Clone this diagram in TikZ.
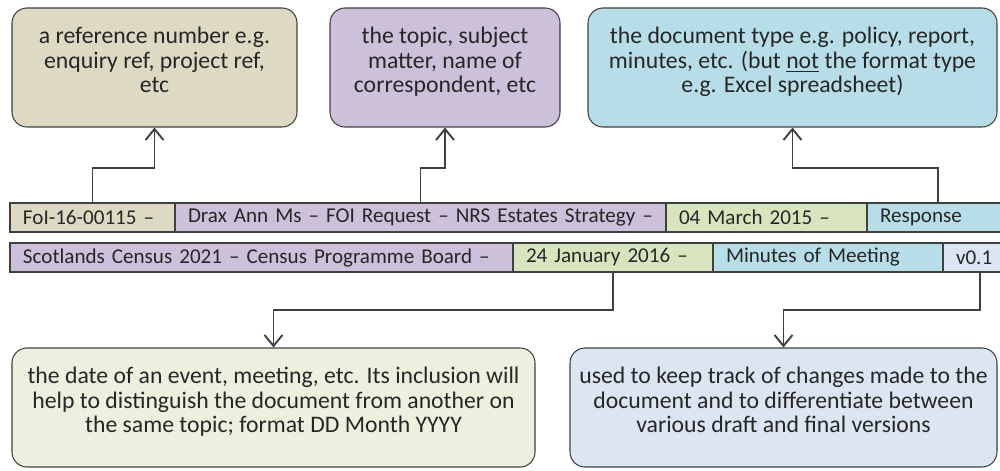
\documentclass[tikz,border=0pt]{standalone}
\usepackage{fontspec}
\setmainfont{Carlito}
\usetikzlibrary{positioning,arrows.meta}
\definecolor{tanfill}{HTML}{DDD9C3}
\definecolor{lilac}{HTML}{CCC0DA}
\definecolor{sage}{HTML}{D7E4BD}
\definecolor{sky}{HTML}{B7DEE8}
\definecolor{mist}{HTML}{DCE6F2}
\definecolor{palesage}{HTML}{EBF1DE}
\definecolor{ink}{HTML}{404040}

\begin{document}
\begin{tikzpicture}[
	note/.style={draw=ink, rounded corners=0.3cm, line width=0.6pt, minimum height=2.38cm, align=center, text depth=0.3cm, text=black!85, font=\fontsize{13.5}{14}\selectfont},
	cell/.style={draw=ink, line width=0.6pt, minimum height=0.58cm, inner xsep=0.26cm, inner ysep=0pt, outer sep=0pt, text width=#1, align=left, anchor=west, text=black!85, font=\fontsize{12}{13}\selectfont},
	link/.style={draw=ink, line width=1.1pt, -{Straight Barb[length=2.2mm,width=3.6mm]}}
	]
	\clip (0,0) rectangle (20,-9.42);
	% first file name
	\node[cell=2.78cm, fill=tanfill] (ref) at (0.2,-4.35) {FoI-16-00115 –};
	\node[cell=9.30cm, fill=lilac, right=0pt of ref] (subj) {Drax Ann Ms – FOI Request – NRS Estates Strategy –};
	\node[cell=3.50cm, fill=sage, right=0pt of subj] (date1) {04 March 2015 –};
	\node[cell=2.32cm, fill=sky, right=0pt of date1] (type1) {Response};
	% second file name
	\node[cell=9.54cm, fill=lilac] (subj2) at (0.2,-5.15) {Scotlands Census 2021 – Census Programme Board –};
	\node[cell=3.48cm, fill=sage, right=0pt of subj2] (date2) {24 January 2016 –};
	\node[cell=4.08cm, fill=sky, right=0pt of date2] (type2) {Minutes of Meeting};
	\node[cell=0.96cm, fill=mist, right=0pt of type2] (ver) {v0.1};
	% notes above
	\node[note, fill=tanfill, minimum width=5.70cm] (refnote) at (3.09,-1.35) {a reference number e.g.\\ enquiry ref, project ref,\\ etc};
	\node[note, fill=lilac, minimum width=4.60cm] (subjnote) at (8.90,-1.35) {the topic, subject\\ matter, name of\\ correspondent, etc};
	\node[note, fill=sky, minimum width=8.18cm] (typenote) at (15.85,-1.35) {the document type e.g. policy, report,\\ minutes, etc. (but \underline{not} the format type\\ e.g. Excel spreadsheet)};
	% notes below
	\node[note, fill=palesage, minimum width=10.46cm] (datenote) at (5.47,-8.15) {the date of an event, meeting, etc. Its inclusion will\\ help to distinguish the document from another on\\ the same topic; format DD Month YYYY};
	\node[note, fill=mist, minimum width=8.54cm] (vernote) at (15.67,-8.15) {used to keep track of changes made to the\\ document and to differentiate between\\ various draft and final versions};
	% links
	\draw[link] (ref.north) -- ++(0,0.7) -| (refnote.south);
	\draw[link] (subj.north) -- ++(0,0.7) -| (subjnote.south);
	\draw[link] (type1.north) -- ++(0,0.7) -| (typenote.south);
	\draw[link] (date2.south) -- ++(0,-0.76) -| (datenote.north);
	\draw[link] (ver.south) -- ++(0,-0.76) -| (vernote.north);
\end{tikzpicture}
\end{document}
